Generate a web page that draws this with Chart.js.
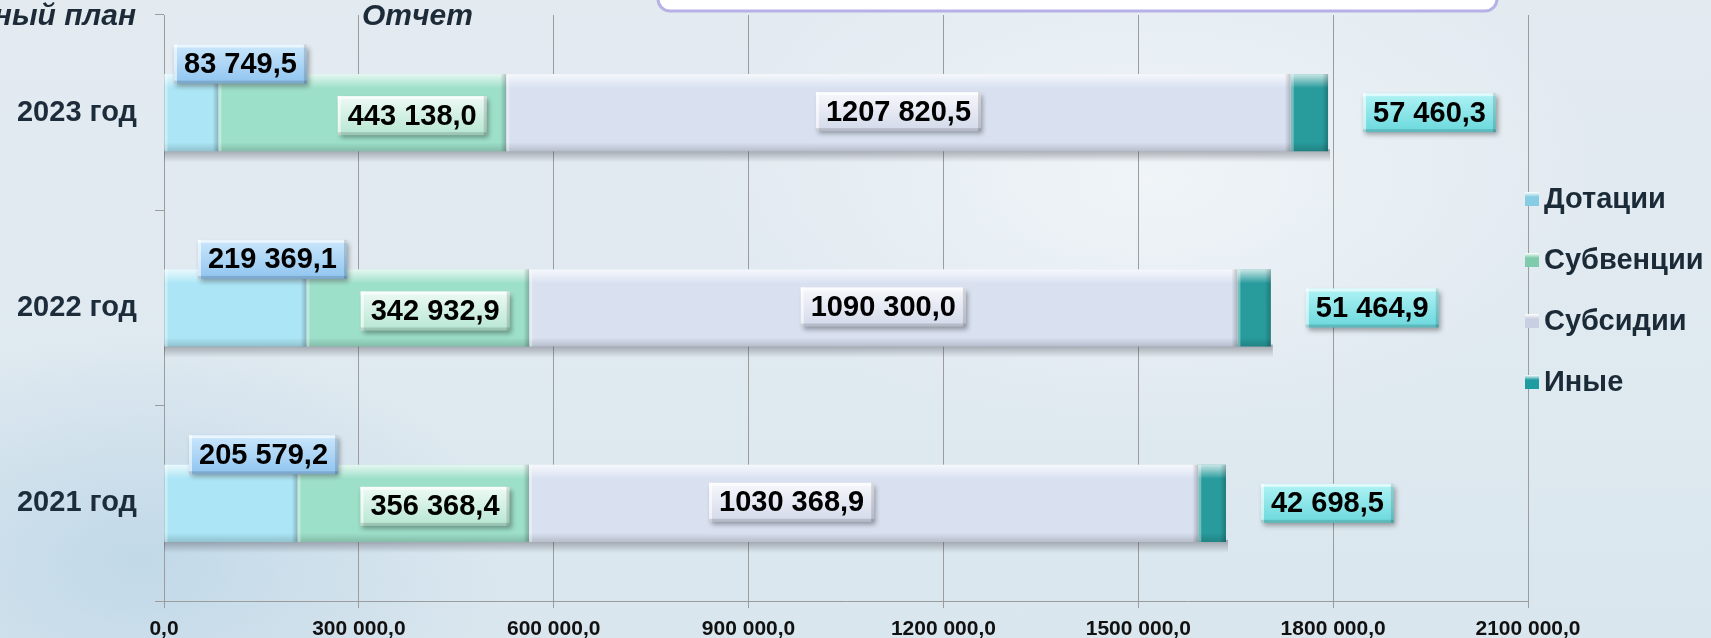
<!DOCTYPE html>
<html lang="ru">
<head>
<meta charset="utf-8">
<title>Безвозмездные поступления</title>
<script src="https://cdn.jsdelivr.net/npm/chart.js@4.4.1/dist/chart.umd.min.js"></script>
<style>
  html, body { margin: 0; padding: 0; }
  body {
    width: 1711px;
    height: 638px;
    overflow: hidden;
    background:
      radial-gradient(ellipse 520px 320px at 140px 560px, rgba(185,212,230,0.75), rgba(185,212,230,0) 70%),
      radial-gradient(ellipse 650px 360px at 1150px 180px, rgba(242,246,249,0.85), rgba(242,246,249,0) 70%),
      linear-gradient(180deg, #e3ebf1 0%, #dfe9f0 60%, #d9e6ee 100%);
  }
  .grafico { position: relative; width: 1711px; height: 638px; }
</style>
</head>
<body>
<div class="grafico"><canvas id="graficoTransferencias"></canvas></div>
<script>
const categorias = ["2023 год", "2022 год", "2021 год"];
const series = ["Дотации", "Субвенции", "Субсидии", "Иные"];
const dotacii = [83749.5, 219369.1, 205579.2];
const subvencii = [443138.0, 342932.9, 356368.4];
const subsidii = [1207820.5, 1090300.0, 1030368.9];
const inye = [57460.3, 51464.9, 42698.5];
const ticksX = [0, 300000, 600000, 900000, 1200000, 1500000, 1800000, 2100000];

const FUENTE = "'Liberation Sans', Arial, sans-serif";

// colores: barra, caja de etiqueta (arriba/abajo), leyenda
const estilos = [
  { barra: "#ace6f6", caja: ["#cbe7fc", "#8fc4ef"], leyenda: "#86cde3" },
  { barra: "#9de0c9", caja: ["#eefaf5", "#b6e6d2"], leyenda: "#80cbab" },
  { barra: "#d9e1f1", caja: ["#f7f8fc", "#d3d9ea"], leyenda: "#c9cfe2" },
  { barra: "#289b9c", caja: ["#b0f3f5", "#6ad8dc"], leyenda: "#1f9ca2" }
];

// formato "1207 820,5"
function fmt(v) {
  let [ent, dec] = v.toFixed(1).split(".");
  if (ent.length > 3) ent = ent.slice(0, -3) + " " + ent.slice(-3);
  return ent + "," + dec;
}

function dibujarCaja(ctx, cx, cy, w, h, colores, texto) {
  const x = cx - w / 2, y = cy - h / 2;
  ctx.save();
  ctx.shadowColor = "rgba(0,0,0,0.35)";
  ctx.shadowBlur = 5;
  ctx.shadowOffsetX = 2;
  ctx.shadowOffsetY = 3;
  const g = ctx.createLinearGradient(0, y, 0, y + h);
  g.addColorStop(0, colores[0]);
  g.addColorStop(1, colores[1]);
  ctx.fillStyle = g;
  ctx.fillRect(x, y, w, h);
  ctx.restore();
  // bisel
  ctx.fillStyle = "rgba(255,255,255,0.6)";
  ctx.fillRect(x, y, w, 3);
  ctx.fillRect(x, y, 3, h);
  ctx.fillStyle = "rgba(0,0,0,0.14)";
  ctx.fillRect(x, y + h - 3, w, 3);
  ctx.fillRect(x + w - 3, y, 3, h);
  ctx.fillStyle = "#000";
  ctx.textAlign = "center";
  ctx.textBaseline = "middle";
  ctx.fillText(texto, cx, cy + 1);
}

const sombraPlugin = {
  id: "sombra",
  beforeDatasetsDraw(chart) {
    const ctx = chart.ctx;
    const ultima = chart.getDatasetMeta(chart.data.datasets.length - 1);
    ctx.save();
    ultima.data.forEach(bar => {
      const abajo = bar.y + bar.height / 2;
      const g = ctx.createLinearGradient(0, abajo - 2, 0, abajo + 11);
      g.addColorStop(0, "rgba(70,70,80,0.45)");
      g.addColorStop(1, "rgba(70,70,80,0)");
      ctx.fillStyle = g;
      ctx.fillRect(chart.chartArea.left, abajo - 2, bar.x - chart.chartArea.left + 2, 13);
    });
    ctx.restore();
  }
};

const biselPlugin = {
  id: "bisel",
  afterDatasetsDraw(chart) {
    const ctx = chart.ctx;
    ctx.save();
    chart.data.datasets.forEach((ds, i) => {
      chart.getDatasetMeta(i).data.forEach(bar => {
        const x0 = Math.min(bar.base, bar.x), x1 = Math.max(bar.base, bar.x);
        const y0 = bar.y - bar.height / 2, y1 = bar.y + bar.height / 2;
        const w = x1 - x0, h = y1 - y0;
        let g = ctx.createLinearGradient(0, y0, 0, y0 + 14);
        g.addColorStop(0, "rgba(255,255,255,0.75)");
        g.addColorStop(1, "rgba(255,255,255,0)");
        ctx.fillStyle = g;
        ctx.fillRect(x0, y0, w, 14);
        g = ctx.createLinearGradient(0, y1 - 9, 0, y1);
        g.addColorStop(0, "rgba(0,0,0,0)");
        g.addColorStop(1, "rgba(0,0,0,0.16)");
        ctx.fillStyle = g;
        ctx.fillRect(x0, y1 - 9, w, 9);
        g = ctx.createLinearGradient(x1 - 6, 0, x1, 0);
        g.addColorStop(0, "rgba(0,0,0,0)");
        g.addColorStop(1, "rgba(0,0,0,0.22)");
        ctx.fillStyle = g;
        ctx.fillRect(x1 - 6, y0, 6, h);
        ctx.fillStyle = "rgba(255,255,255,0.35)";
        ctx.fillRect(x0, y0, 3, h);
      });
    });
    ctx.restore();
  }
};

const etiquetasPlugin = {
  id: "etiquetas",
  afterDatasetsDraw(chart) {
    const ctx = chart.ctx;
    const area = chart.chartArea;
    ctx.save();
    ctx.font = "bold 29px " + FUENTE;
    chart.data.datasets.forEach((ds, i) => {
      chart.getDatasetMeta(i).data.forEach((bar, j) => {
        const texto = fmt(ds.data[j]);
        const w = ctx.measureText(texto).width + 20;
        const h = 39;
        const arriba = bar.y - bar.height / 2;
        let cx, cy;
        if (i === 0) {
          cx = Math.max(bar.x - 34, area.left + 10 + w / 2);
          cy = arriba - 10;
        } else if (i === 1) {
          cx = bar.x - 94;
          cy = bar.y + 3;
        } else if (i === 2) {
          cx = (bar.x + bar.base) / 2 + (j === 2 ? -72 : 0);
          cy = bar.y - 1;
        } else {
          cx = bar.x + 35 + w / 2;
          cy = bar.y;
        }
        dibujarCaja(ctx, cx, cy, w, h, estilos[i].caja, texto);
      });
    });
    ctx.restore();
  }
};

const adornosPlugin = {
  id: "adornos",
  afterDraw(chart) {
    const ctx = chart.ctx;
    const area = chart.chartArea;
    ctx.save();
    // recuadro del titulo (cortado arriba)
    ctx.beginPath();
    ctx.roundRect(658, -40, 839, 51, 12);
    ctx.fillStyle = "#ffffff";
    ctx.fill();
    ctx.lineWidth = 3;
    ctx.strokeStyle = "#b6b1e6";
    ctx.stroke();

    ctx.fillStyle = "#1d2b38";
    ctx.font = "italic bold 30px " + FUENTE;
    ctx.textBaseline = "middle";
    ctx.textAlign = "right";
    ctx.fillText("Уточненный план", 136, 17);
    ctx.textAlign = "left";
    ctx.fillText("Отчет", 362, 17);

    // leyenda
    ctx.font = "bold 29px " + FUENTE;
    series.forEach((nombre, i) => {
      const y = 199 + i * 61;
      const x = area.right - 3;
      const g = ctx.createLinearGradient(0, y - 7, 0, y + 7);
      g.addColorStop(0, "#ffffff");
      g.addColorStop(0.35, estilos[i].leyenda);
      g.addColorStop(1, estilos[i].leyenda);
      ctx.fillStyle = g;
      ctx.fillRect(x, y - 7, 14, 14);
      ctx.fillStyle = "#1b2a37";
      ctx.fillText(nombre, x + 19, y + 1);
    });
    ctx.restore();
  }
};

document.addEventListener("DOMContentLoaded", () => {
  renderGrafico();
});

function renderGrafico() {
  const ctx = document.getElementById("graficoTransferencias").getContext("2d");
  const valores = [dotacii, subvencii, subsidii, inye];

  new Chart(ctx, {
    type: "bar",
    data: {
      labels: categorias,
      datasets: series.map((nombre, i) => ({
        label: nombre,
        data: valores[i],
        backgroundColor: estilos[i].barra,
        borderWidth: 0,
        categoryPercentage: 0.395,
        barPercentage: 1.0
      }))
    },
    options: {
      indexAxis: "y",
      responsive: true,
      maintainAspectRatio: false,
      animation: false,
      layout: { padding: { left: 0, right: 183, top: 15, bottom: 0 } },
      plugins: {
        legend: { display: false },
        tooltip: { enabled: false }
      },
      scales: {
        x: {
          stacked: true,
          min: 0,
          max: 2100000,
          afterBuildTicks: scale => { scale.ticks = ticksX.map(v => ({ value: v })); },
          afterFit: scale => { scale.height = 37; },
          grid: { color: "#9c9c9c", lineWidth: 1, tickLength: 7 },
          border: { color: "#9c9c9c" },
          ticks: {
            padding: 9,
            color: "#111",
            font: { family: FUENTE, size: 21, weight: "bold" },
            callback: v => fmt(v)
          }
        },
        y: {
          stacked: true,
          afterFit: scale => {
            scale.width = 164;
            scale.paddingTop = 0;
            scale.paddingBottom = 0;
          },
          grid: { drawOnChartArea: false, tickLength: 9, color: "#9c9c9c" },
          border: { color: "#9c9c9c" },
          ticks: {
            padding: 18,
            color: "#1d2c3a",
            font: { family: FUENTE, size: 29, weight: "bold" }
          }
        }
      }
    },
    plugins: [sombraPlugin, biselPlugin, etiquetasPlugin, adornosPlugin]
  });
}
</script>
</body>
</html>
